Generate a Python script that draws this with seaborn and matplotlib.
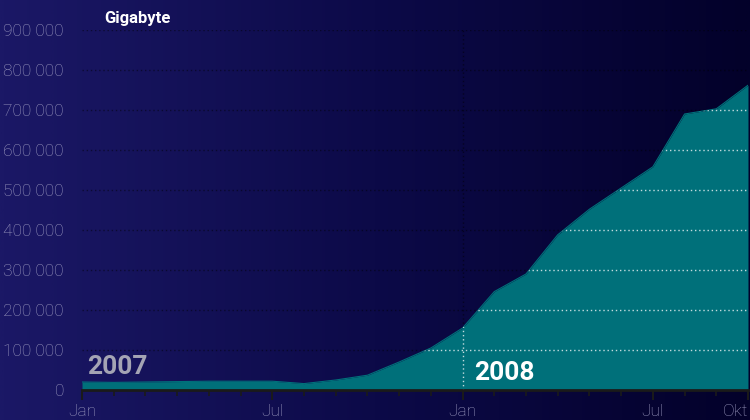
import numpy as np
import pandas as pd
import matplotlib
matplotlib.use("Agg")
import matplotlib.pyplot as plt
import seaborn as sns
from matplotlib.colors import LinearSegmentedColormap
from matplotlib.ticker import MultipleLocator, FixedLocator

# ---- data (monthly, Jan 2007 .. Okt 2008), gigabyte ----
months = ["2007-01", "2007-02", "2007-03", "2007-04", "2007-05", "2007-06",
          "2007-07", "2007-08", "2007-09", "2007-10", "2007-11", "2007-12",
          "2008-01", "2008-02", "2008-03", "2008-04", "2008-05", "2008-06",
          "2008-07", "2008-08", "2008-09", "2008-10"]
gigabyte = [20000, 19000, 20000, 21000, 22000, 22000, 22000, 16000, 25000, 37000,
            70000, 105000, 155000, 246000, 290000, 388000, 452000, 505000, 558000,
            690000, 703000, 762000]
x_tick_pos = [0, 6, 12, 18, 21]
x_tick_labels = ["Jan", "Jul", "Jan", "Jul", "Okt"]
y_ticks = [0, 100000, 200000, 300000, 400000, 500000, 600000, 700000, 800000, 900000]
y_tick_labels = ["0", "100 000", "200 000", "300 000", "400 000", "500 000",
                 "600 000", "700 000", "800 000", "900 000"]

df = pd.DataFrame({"month": months, "idx": np.arange(len(months)), "gb": gigabyte})

sns.set_style("white")
plt.rcParams["font.family"] = ["Roboto", "DejaVu Sans"]

fig = plt.figure(figsize=(7.5, 4.2), dpi=100)

# background gradient
bg = fig.add_axes([0, 0, 1, 1], zorder=-10)
cmap = LinearSegmentedColormap.from_list("bg", ["#1b1866", "#0c0a48", "#03012a"])
grad = np.linspace(0, 1, 300).reshape(1, -1)
bg.imshow(grad, aspect="auto", cmap=cmap, extent=[0, 1, 0, 1])
bg.axis("off")

ax = fig.add_axes([82 / 750, 1 - 390 / 420, (748 - 82) / 750, 360 / 420])
ax.patch.set_alpha(0)

teal = "#00707a"
sns.lineplot(data=df, x="idx", y="gb", ax=ax, color=teal, linewidth=0.8, zorder=3)
poly = ax.fill_between(df["idx"], 0, df["gb"], color=teal, linewidth=0, zorder=2)

ax.set_xlim(0, 21)
ax.set_ylim(0, 900000)

# dark dotted grid (visible over background)
dot = (0, (1, 2))
for yv in y_ticks[1:]:
    ax.axhline(yv, color="#000000", alpha=0.45, lw=1, ls=dot, zorder=1)
ax.axvline(12, color="#000000", alpha=0.45, lw=1, ls=dot, zorder=1)

# white dotted grid clipped to the filled area
clip = poly.get_paths()[0]
for yv in y_ticks[1:]:
    ln = ax.axhline(yv, color="#d8e8ea", alpha=0.9, lw=1, ls=dot, zorder=4)
    ln.set_clip_path(clip, transform=ax.transData)
ln = ax.axvline(12, color="#d8e8ea", alpha=0.9, lw=1, ls=dot, zorder=4)
ln.set_clip_path(clip, transform=ax.transData)

for s in ["top", "right", "left"]:
    ax.spines[s].set_visible(False)
ax.spines["bottom"].set_color("#1a1a1a")
ax.spines["bottom"].set_linewidth(2)
ax.spines["bottom"].set_zorder(5)

label_color = "#9c9ac0"
ax.yaxis.set_major_locator(FixedLocator(y_ticks))
ax.set_yticklabels(y_tick_labels, color=label_color, fontsize=12.5, fontweight="light")
ax.tick_params(axis="y", length=0, pad=13)

ax.xaxis.set_major_locator(FixedLocator(x_tick_pos))
ax.xaxis.set_minor_locator(MultipleLocator(1))
ax.set_xticklabels(x_tick_labels, color=label_color, fontsize=12.5, fontweight="light")
ax.tick_params(axis="x", which="major", length=7, width=1.5, color="#1a1a1a",
               direction="out", pad=3, bottom=True)
ax.tick_params(axis="x", which="minor", length=4, width=1.2, color="#1a1a1a",
               direction="out", bottom=True)
ax.set_xlabel("")
ax.set_ylabel("")
ax.grid(False)
xl = ax.get_xticklabels()
xl[-1].set_horizontalalignment("right")

fig.text(104 / 750, 1 - 19 / 420, "Gigabyte", color="white", fontsize=12,
         fontweight="bold", va="center", ha="left")
fig.text(87 / 750, 1 - 367 / 420, "2007", color="#a4a4b4", fontsize=19,
         fontweight="bold", va="center", ha="left")
fig.text(474 / 750, 1 - 373 / 420, "2008", color="white", fontsize=19,
         fontweight="bold", va="center", ha="left", zorder=10)

fig.savefig("out.png", dpi=100)
